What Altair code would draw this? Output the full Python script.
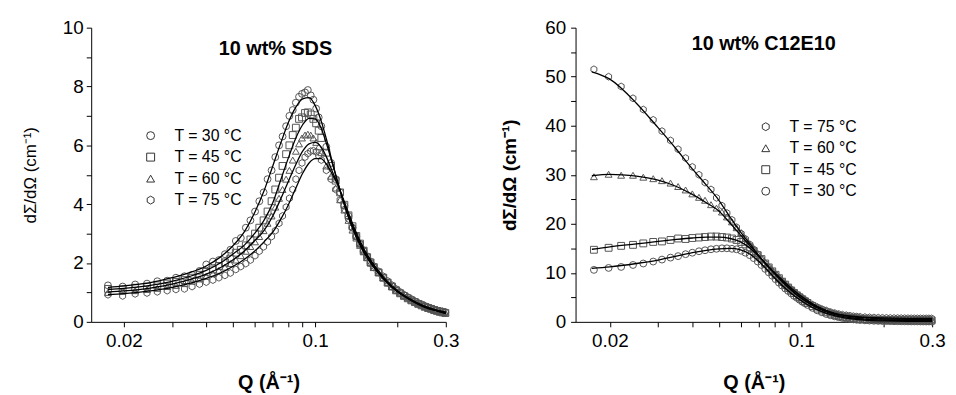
import altair as alt
import pandas as pd

# ---------------- data ----------------
Q_DATA = [
    0.0175, 0.0198, 0.022, 0.0243, 0.0265, 0.0288, 0.031, 0.0333, 0.0355, 0.0378,
    0.04, 0.0423, 0.0445, 0.0468, 0.049, 0.0513, 0.0535, 0.0558, 0.058, 0.0603,
    0.0625, 0.0648, 0.067, 0.0693, 0.0715, 0.0738, 0.076, 0.0783, 0.0805, 0.0828,
    0.085, 0.0873, 0.0895, 0.0918, 0.094, 0.0963, 0.0985, 0.1008, 0.103, 0.1053,
    0.1098, 0.1143, 0.1188, 0.1233, 0.1278, 0.1323, 0.1368, 0.1413, 0.1458, 0.1503,
    0.1548, 0.1593, 0.1638, 0.1705, 0.1773, 0.184, 0.1908, 0.1975, 0.2043, 0.211,
    0.2178, 0.2245, 0.2313, 0.238, 0.2448, 0.2515, 0.2583, 0.265, 0.2718, 0.2785,
    0.2853, 0.292, 0.2988,
]

SDS_30 = [
    1.24, 1.2, 1.27, 1.3, 1.38, 1.4, 1.5, 1.55, 1.6, 1.73,
    1.95, 2.05, 2.1, 2.3, 2.45, 2.75, 2.85, 3.2, 3.45, 3.75,
    4.1, 4.4, 4.85, 5.15, 5.6, 6.0, 6.3, 6.65, 7.0, 7.2,
    7.45, 7.65, 7.75, 7.8, 7.88, 7.7, 7.55, 7.25, 6.95, 6.65,
    5.95, 5.4, 4.85, 4.4, 3.95, 3.6, 3.2, 2.9, 2.65, 2.4,
    2.2, 2.0, 1.85, 1.68, 1.5, 1.33, 1.2, 1.07, 0.98, 0.9,
    0.82, 0.74, 0.68, 0.62, 0.57, 0.52, 0.49, 0.45, 0.42, 0.39,
    0.37, 0.35, 0.33,
]
SDS_45 = [
    1.12, 1.1, 1.16, 1.2, 1.24, 1.3, 1.36, 1.42, 1.5, 1.6,
    1.7, 1.78, 1.9, 2.02, 2.15, 2.35, 2.45, 2.6, 2.8, 3.0,
    3.2, 3.45, 3.75, 4.1, 4.5, 4.9, 5.3, 5.7, 6.0, 6.35,
    6.6, 6.9, 6.95, 7.1, 7.12, 7.05, 6.9, 6.75, 6.5, 6.25,
    5.75, 5.3, 4.8, 4.4, 3.98, 3.62, 3.25, 2.92, 2.66, 2.42,
    2.2, 2.02, 1.86, 1.68, 1.5, 1.33, 1.2, 1.07, 0.97, 0.88,
    0.8, 0.73, 0.67, 0.61, 0.56, 0.51, 0.47, 0.44, 0.4, 0.37,
    0.34, 0.32, 0.3,
]
SDS_60 = [
    1.0, 1.04, 1.06, 1.1, 1.14, 1.2, 1.24, 1.3, 1.38, 1.46,
    1.55, 1.64, 1.75, 1.86, 1.98, 2.1, 2.25, 2.4, 2.56, 2.72,
    2.9, 3.1, 3.35, 3.6, 3.9, 4.2, 4.5, 4.85, 5.15, 5.5,
    5.8, 6.05, 6.25, 6.35, 6.38, 6.35, 6.25, 6.1, 5.95, 5.75,
    5.3, 4.95, 4.55, 4.15, 3.8, 3.45, 3.12, 2.85, 2.6, 2.38,
    2.18, 2.0, 1.85, 1.67, 1.5, 1.34, 1.2, 1.08, 0.98, 0.89,
    0.81, 0.74, 0.68, 0.62, 0.57, 0.52, 0.48, 0.45, 0.41, 0.38,
    0.35, 0.33, 0.31,
]
SDS_75 = [
    0.92, 0.88, 0.95, 0.98, 1.02, 1.06, 1.1, 1.12, 1.2, 1.28,
    1.35, 1.42, 1.5, 1.58, 1.66, 1.78, 1.88, 1.98, 2.1, 2.25,
    2.4, 2.55, 2.72, 2.9, 3.1, 3.35, 3.6, 3.9, 4.2, 4.5,
    4.85, 5.15, 5.4, 5.6, 5.72, 5.8, 5.82, 5.78, 5.65, 5.5,
    5.15, 4.85, 4.5, 4.15, 3.82, 3.5, 3.2, 2.92, 2.66, 2.44,
    2.24, 2.06, 1.9, 1.72, 1.55, 1.39, 1.25, 1.12, 1.02, 0.93,
    0.85, 0.78, 0.71, 0.65, 0.6, 0.55, 0.51, 0.47, 0.43, 0.4,
    0.37, 0.35, 0.33,
]

C12_75 = [
    51.5, 50.0, 48.0, 45.6, 43.3, 41.2, 38.9, 37.0, 35.2, 33.4,
    31.6, 30.0, 28.4, 27.0, 25.3, 23.7, 22.2, 20.8, 19.3, 18.0,
    16.9, 15.8, 14.8, 13.8, 12.8, 11.9, 11.1, 10.3, 9.6, 8.9,
    8.3, 7.7, 7.1, 6.6, 6.1, 5.6, 5.2, 4.8, 4.4, 4.1,
    3.5, 3.0, 2.6, 2.3, 2.0, 1.8, 1.6, 1.45, 1.35, 1.25,
    1.15, 1.08, 1.02, 0.96, 0.92, 0.88, 0.85, 0.82, 0.8, 0.78,
    0.77, 0.76, 0.75, 0.74, 0.73, 0.72, 0.72, 0.71, 0.71, 0.7,
    0.7, 0.7, 0.7,
]
C12_60 = [
    29.6, 30.1, 29.9, 29.9, 29.5, 29.2, 28.8, 28.3, 27.6, 26.9,
    26.1, 25.4, 24.8, 23.9, 23.2, 22.4, 21.4, 20.4, 19.2, 18.2,
    17.0, 15.9, 14.9, 13.9, 13.0, 12.1, 11.3, 10.5, 9.8, 9.1,
    8.5, 7.9, 7.3, 6.8, 6.3, 5.8, 5.4, 5.0, 4.6, 4.25,
    3.6, 3.1, 2.65, 2.3, 2.0, 1.75, 1.55, 1.38, 1.25, 1.12,
    1.02, 0.94, 0.87, 0.8, 0.74, 0.69, 0.65, 0.62, 0.6, 0.58,
    0.56, 0.55, 0.54, 0.53, 0.53, 0.52, 0.52, 0.51, 0.51, 0.5,
    0.5, 0.5, 0.5,
]
C12_45 = [
    14.7, 15.1, 15.5, 15.7, 16.0, 16.3, 16.4, 16.7, 17.0, 16.9,
    17.1, 17.2, 17.3, 17.4, 17.4, 17.3, 17.2, 17.0, 16.7, 16.3,
    15.8, 15.2, 14.4, 13.6, 12.8, 11.9, 11.1, 10.3, 9.6, 8.9,
    8.2, 7.6, 7.0, 6.4, 5.9, 5.4, 5.0, 4.6, 4.2, 3.85,
    3.2, 2.7, 2.3, 1.95, 1.65, 1.4, 1.2, 1.05, 0.92, 0.82,
    0.72, 0.65, 0.58, 0.52, 0.47, 0.43, 0.4, 0.38, 0.36, 0.34,
    0.33, 0.32, 0.31, 0.31, 0.3, 0.3, 0.29, 0.29, 0.29, 0.28,
    0.28, 0.28, 0.28,
]
C12_30 = [
    10.6, 11.0, 11.2, 11.6, 11.9, 12.3, 12.7, 13.1, 13.4, 13.8,
    14.1, 14.4, 14.6, 14.8, 14.9, 15.0, 15.0, 14.9, 14.8, 14.5,
    14.1, 13.6, 13.0, 12.3, 11.6, 10.8, 10.1, 9.4, 8.7, 8.0,
    7.4, 6.8, 6.3, 5.8, 5.3, 4.9, 4.5, 4.1, 3.8, 3.45,
    2.85, 2.35, 1.95, 1.6, 1.35, 1.12, 0.95, 0.8, 0.68, 0.58,
    0.5, 0.43, 0.37, 0.31, 0.26, 0.22, 0.19, 0.17, 0.15, 0.14,
    0.13, 0.12, 0.11, 0.1, 0.1, 0.09, 0.09, 0.09, 0.08, 0.08,
    0.08, 0.08, 0.08,
]

# fitted curves
Q_FIT_SDS = [0.0175, 0.02, 0.025, 0.03, 0.035, 0.04, 0.045, 0.05, 0.055, 0.06,
             0.065, 0.07, 0.075, 0.08, 0.085, 0.09, 0.095, 0.1, 0.105, 0.11,
             0.115, 0.12, 0.13, 0.14, 0.15, 0.16, 0.18, 0.2, 0.22, 0.25, 0.28, 0.3]
SDS_FIT_30 = [1.17, 1.22, 1.33, 1.5, 1.68, 1.9, 2.2, 2.58, 3.05, 3.7,
              4.45, 5.3, 6.1, 6.8, 7.3, 7.58, 7.62, 7.35, 6.85, 6.2,
              5.5, 4.85, 3.75, 2.95, 2.38, 1.98, 1.4, 1.02, 0.78, 0.52, 0.38, 0.32]
SDS_FIT_45 = [1.10, 1.14, 1.24, 1.38, 1.55, 1.75, 2.0, 2.3, 2.6, 3.0,
              3.45, 4.05, 4.85, 5.6, 6.25, 6.7, 6.92, 6.9, 6.6, 6.05,
              5.45, 4.85, 3.8, 3.0, 2.42, 2.0, 1.4, 1.02, 0.77, 0.5, 0.36, 0.28]
SDS_FIT_60 = [1.01, 1.05, 1.15, 1.28, 1.44, 1.62, 1.84, 2.1, 2.4, 2.75,
              3.1, 3.6, 4.2, 4.8, 5.35, 5.8, 6.05, 6.1, 5.95, 5.6,
              5.15, 4.75, 3.82, 3.05, 2.46, 2.02, 1.42, 1.03, 0.78, 0.52, 0.37, 0.3]
SDS_FIT_75 = [0.93, 0.96, 1.05, 1.17, 1.32, 1.48, 1.66, 1.88, 2.12, 2.4,
              2.72, 3.05, 3.5, 4.0, 4.55, 5.05, 5.4, 5.55, 5.55, 5.35,
              5.05, 4.72, 3.9, 3.12, 2.52, 2.08, 1.46, 1.06, 0.8, 0.54, 0.39, 0.33]

Q_FIT_C12 = [0.0172, 0.02, 0.025, 0.03, 0.035, 0.04, 0.045, 0.05, 0.055, 0.06,
             0.065, 0.07, 0.075, 0.08, 0.09, 0.1, 0.11, 0.12, 0.13, 0.15,
             0.17, 0.2, 0.25, 0.3]
C12_FIT_75 = [51.0, 49.5, 44.6, 39.6, 35.2, 31.2, 27.9, 24.8, 21.3, 18.3,
              15.9, 13.5, 11.5, 9.8, 7.0, 4.8, 3.5, 2.5, 1.8, 1.2,
              0.95, 0.8, 0.72, 0.7]
C12_FIT_60 = [29.8, 30.1, 29.7, 28.9, 27.6, 26.0, 24.3, 22.6, 20.1, 17.7,
              15.5, 13.4, 11.6, 10.0, 7.3, 5.2, 3.7, 2.6, 1.9, 1.1,
              0.8, 0.6, 0.52, 0.5]
C12_FIT_45 = [14.8, 15.3, 15.9, 16.4, 16.8, 17.1, 17.3, 17.3, 17.0, 16.3,
              15.0, 13.3, 11.5, 9.8, 6.9, 4.8, 3.3, 2.3, 1.6, 0.85,
              0.55, 0.38, 0.3, 0.28]
C12_FIT_30 = [10.9, 11.2, 11.9, 12.6, 13.4, 14.1, 14.6, 14.9, 15.0, 14.7,
              13.8, 12.3, 10.6, 8.9, 6.2, 4.3, 2.9, 2.0, 1.35, 0.65,
              0.35, 0.18, 0.1, 0.08]

LABELS = ["T = 30 °C", "T = 45 °C", "T = 60 °C", "T = 75 °C"]
X_TICKS = [0.02, 0.03, 0.04, 0.05, 0.06, 0.07, 0.08, 0.09, 0.1, 0.2, 0.3]
HEX = "M0,-1L0.866,-0.5L0.866,0.5L0,1L-0.866,0.5L-0.866,-0.5Z"
FONT = "Liberation Sans"
PT_COLOR = "#555555"


def long_df(q, series):
    rows = []
    for lab, vals in series:
        for qq, v in zip(q, vals):
            rows.append({"Q": qq, "I": v, "T": lab})
    return pd.DataFrame(rows)


def panel(pts, fits, ymax, ystep, ymajor, ytitle, ybold, ytsize, ytpad, ylpad,
          title, tx, ty, order, shapes, lx, ly, xmin, w, h):
    xscale = alt.Scale(type="log", domain=[xmin, 0.3], nice=False)
    yscale = alt.Scale(domain=[0, ymax], nice=False, zero=False)
    xaxis = alt.Axis(
        values=X_TICKS, format=".2~f",
        labelExpr="(datum.value == 0.02 || datum.value == 0.1 || datum.value == 0.3) ? datum.label : ''",
        labelOverlap=False, labelFlush=False, tickSize=5, labelPadding=5,
        labelFontSize=19, title="Q (Å⁻¹)", titleFontSize=20,
        titleFontWeight="bold", titlePadding=22,
    )
    yvals = [i * ystep for i in range(int(round(ymax / ystep)) + 1)]
    yaxis = alt.Axis(
        values=yvals,
        labelExpr=f"datum.value % {ymajor} == 0 ? datum.label : ''",
        labelOverlap=False, tickSize=5, labelPadding=ylpad, labelFontSize=19,
        title=ytitle, titleFontSize=ytsize,
        titleFontWeight="bold" if ybold else "normal", titlePadding=ytpad,
    )
    points = alt.Chart(pts).mark_point(
        filled=False, size=48, strokeWidth=1, color=PT_COLOR, opacity=1
    ).encode(
        x=alt.X("Q:Q", scale=xscale, axis=xaxis),
        y=alt.Y("I:Q", scale=yscale, axis=yaxis),
        shape=alt.Shape(
            "T:N",
            scale=alt.Scale(domain=order, range=shapes),
            legend=alt.Legend(
                orient="none", legendX=lx, legendY=ly, title=None,
                labelFont=FONT, labelFontSize=16, labelColor="black",
                labelOffset=16, rowPadding=5.7, padding=0, symbolSize=64,
                symbolStrokeColor="#333333", symbolStrokeWidth=1,
            ),
        ),
    )
    lines = alt.Chart(fits).mark_line(
        color="black", strokeWidth=1.3, interpolate="monotone"
    ).encode(
        x=alt.X("Q:Q", scale=xscale, axis=xaxis),
        y=alt.Y("I:Q", scale=yscale, axis=yaxis),
        detail="T:N",
    )
    label = alt.Chart(pd.DataFrame({"t": [title]})).mark_text(
        font=FONT, fontSize=20, fontWeight="bold", align="center",
        baseline="middle", color="black",
    ).encode(text="t:N", x=alt.value(tx), y=alt.value(ty))
    return alt.layer(points, lines, label).properties(width=w, height=h)


sds_pts = long_df(Q_DATA, zip(LABELS, [SDS_30, SDS_45, SDS_60, SDS_75]))
sds_fit = long_df(Q_FIT_SDS, zip(LABELS, [SDS_FIT_30, SDS_FIT_45, SDS_FIT_60, SDS_FIT_75]))
c12_pts = long_df(Q_DATA, zip(LABELS, [C12_30, C12_45, C12_60, C12_75]))
c12_fit = long_df(Q_FIT_C12, zip(LABELS, [C12_FIT_30, C12_FIT_45, C12_FIT_60, C12_FIT_75]))

left = panel(
    sds_pts, sds_fit, 10, 1, 2, "dΣ/dΩ (cm⁻¹)", False, 17, 23, 3,
    "10 wt% SDS", 186, 22,
    LABELS, ["circle", "square", "triangle-up", HEX], 52, 101, 0.0152, 358, 297,
)
right = panel(
    c12_pts, c12_fit, 60, 5, 10, "dΣ/dΩ (cm⁻¹)", True, 19, 25, 5,
    "10 wt% C12E10", 190, 17,
    LABELS[::-1], [HEX, "triangle-up", "square", "circle"], 184, 92, 0.015, 360, 297,
)

chart = alt.hconcat(left, right, spacing=41).resolve_scale(
    x="independent", y="independent", shape="independent"
).resolve_legend(shape="independent").properties(
    padding={"left": 13, "top": 9, "right": 2, "bottom": 2}
).configure_view(stroke=None).configure_axis(
    labelFont=FONT, titleFont=FONT, labelColor="black", titleColor="black",
    domainColor="black", tickColor="black", domainWidth=1, tickWidth=1, grid=False,
)

chart.save("out.html", embed_options={"renderer": "svg", "actions": False})
